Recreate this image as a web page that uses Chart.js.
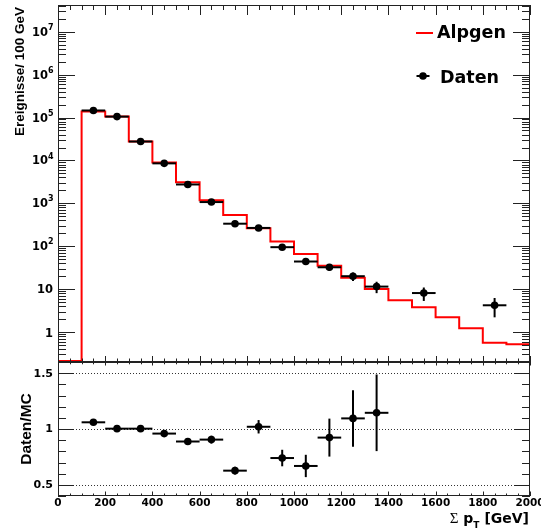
<!DOCTYPE html>
<html>
<head>
<meta charset="utf-8">
<script src="https://cdn.jsdelivr.net/npm/chart.js@4.4.1/dist/chart.umd.min.js"></script>
<style>
  body { margin: 0; background: #fff; width: 541px; height: 532px; overflow: hidden; position: relative; }
  canvas { position: absolute; left: 0; }
  #mainChart { top: 0; }
  #ratioChart { top: 355px; }
</style>
</head>
<body>
<canvas id="mainChart" width="541" height="366"></canvas>
<canvas id="ratioChart" width="541" height="177"></canvas>
<script>
// Sum pT spectrum: Alpgen prediction vs. data, ratio panel underneath

const binEdges = [0, 100, 200, 300, 400, 500, 600, 700, 800, 900, 1000,
                  1100, 1200, 1300, 1400, 1500, 1600, 1700, 1800, 1900, 2000];
const alpgen = [0, 138000, 105000, 27500, 8900, 3100, 1180, 535, 262, 128, 66,
                35, 18.3, 10, 5.5, 3.8, 2.2, 1.22, 0.56, 0.52];

const datenX   = [150, 250, 350, 450, 550, 650, 750, 850, 950, 1050, 1150, 1250, 1350, 1550, 1850];
const daten    = [146000, 105000, 27600, 8540, 2750, 1070, 335, 267, 95, 44, 32.3, 20, 11.45, 8.1, 4.2];
const datenErr = [380, 320, 165, 92, 52, 33, 18, 16, 9.7, 6.6, 5.7, 4.5, 3.4, 2.8, 2.0];

const ratioX   = [150, 250, 350, 450, 550, 650, 750, 850, 950, 1050, 1150, 1250, 1350];
const ratio    = [1.06, 1.003, 1.003, 0.959, 0.888, 0.905, 0.627, 1.02, 0.74, 0.669, 0.923, 1.095, 1.145];
const ratioErr = [0.008, 0.008, 0.01, 0.015, 0.025, 0.035, 0.035, 0.06, 0.074, 0.1, 0.17, 0.253, 0.343];

const xTicks = [0, 200, 400, 600, 800, 1000, 1200, 1400, 1600, 1800, 2000];
const ratioTicks = [0.5, 1, 1.5];
const decades = [0, 1, 2, 3, 4, 5, 6, 7];

const halfBin = 50;
const Y_MIN = 0.2, Y_MAX = 4.2e7;
const EMPTY_LEVEL = 0.21;   // empty bins drawn just above the frame bottom
const BOLD = '"DejaVu Sans", sans-serif';
const frameColor = '#222';

// histogram as step line: one point per low bin edge plus the closing edge
const histPoints = alpgen.map((v, i) => ({ x: binEdges[i], y: v > 0 ? v : EMPTY_LEVEL }));
histPoints.push({ x: binEdges[binEdges.length - 1], y: alpgen[alpgen.length - 1] });

const datenPoints = datenX.map((x, i) => ({ x: x, y: daten[i] }));
const ratioPoints = ratioX.map((x, i) => ({ x: x, y: ratio[i] }));

function line(ctx, x0, y0, x1, y1) {
    ctx.beginPath();
    ctx.moveTo(x0, y0);
    ctx.lineTo(x1, y1);
    ctx.stroke();
}

function drawErrors(ctx, xs, ys, errs, scaleX, scaleY) {
    ctx.strokeStyle = '#000';
    ctx.lineWidth = 2;
    xs.forEach((cx, i) => {
        const px = scaleX.getPixelForValue(cx);
        const py = scaleY.getPixelForValue(ys[i]);
        line(ctx, scaleX.getPixelForValue(cx - halfBin), py, scaleX.getPixelForValue(cx + halfBin), py);
        const lo = Math.max(ys[i] - errs[i], scaleY.min);
        line(ctx, px, scaleY.getPixelForValue(ys[i] + errs[i]), px, scaleY.getPixelForValue(lo));
    });
}

function drawFrame(ctx, a) {
    ctx.strokeStyle = frameColor;
    ctx.lineWidth = 1;
    ctx.strokeRect(Math.round(a.left) + 0.5, Math.round(a.top) + 0.5,
                   Math.round(a.right - a.left) - 1, Math.round(a.bottom - a.top) - 1);
}

// x ticks every 50 GeV, longer every 200 GeV
function drawXTicks(ctx, a, scaleX, topMajor, topMinor, botMajor, botMinor) {
    ctx.strokeStyle = frameColor;
    ctx.lineWidth = 1;
    for (let v = 0; v <= 2000; v += 50) {
        const px = Math.round(scaleX.getPixelForValue(v)) + 0.5;
        const major = v % 200 === 0;
        const t = major ? topMajor : topMinor;
        const b = major ? botMajor : botMinor;
        if (t > 0) line(ctx, px, a.top, px, a.top + t);
        if (b > 0) line(ctx, px, a.bottom, px, a.bottom - b);
    }
}

const mainAxes = {
    id: 'mainAxes',
    afterDatasetsDraw(chart) {
        const { ctx, chartArea: a, scales: { x, y } } = chart;
        ctx.save();
        drawErrors(ctx, datenX, daten, datenErr, x, y);
        drawFrame(ctx, a);
        drawXTicks(ctx, a, x, 10, 5, 6, 3.5);

        // log ticks on both sides
        ctx.strokeStyle = frameColor;
        ctx.lineWidth = 1;
        for (let k = -1; k <= 7; k++) {
            for (let m = 1; m <= 9; m++) {
                const v = m * Math.pow(10, k);
                if (v < Y_MIN || v > Y_MAX) continue;
                const py = Math.round(y.getPixelForValue(v)) + 0.5;
                const len = m === 1 ? 17 : 8;
                line(ctx, a.left, py, a.left + len, py);
                line(ctx, a.right, py, a.right - len, py);
            }
        }

        // decade labels
        ctx.fillStyle = '#000';
        ctx.textBaseline = 'middle';
        decades.forEach(k => {
            const py = y.getPixelForValue(Math.pow(10, k));
            ctx.textAlign = 'right';
            ctx.font = 'bold 11.5px ' + BOLD;
            if (k === 0) {
                ctx.fillText('1', 53, py + 1.5);
            } else if (k === 1) {
                ctx.fillText('10', 53, py + 1);
            } else {
                ctx.fillText('10', 48, py + 1);
                ctx.textAlign = 'left';
                ctx.font = 'bold 8px ' + BOLD;
                ctx.fillText(String(k), 48, py - 4);
            }
        });

        // y title
        ctx.save();
        ctx.translate(20.5, 7);
        ctx.rotate(-Math.PI / 2);
        ctx.textAlign = 'right';
        ctx.textBaseline = 'middle';
        ctx.font = 'bold 13.5px "Liberation Sans", Arial, sans-serif';
        ctx.fillText('Ereignisse/ 100 GeV', 0, 0);
        ctx.restore();

        // legend
        ctx.font = 'bold 17.5px ' + BOLD;
        ctx.textAlign = 'left';
        ctx.textBaseline = 'alphabetic';
        ctx.strokeStyle = '#ff0000';
        ctx.lineWidth = 2;
        line(ctx, 416, 33, 433, 33);
        ctx.fillText(chart.data.datasets[0].label, 437, 37.5);

        ctx.strokeStyle = '#000';
        line(ctx, 416.5, 76, 429.5, 76);
        ctx.beginPath();
        ctx.arc(423, 76, 3.8, 0, Math.PI * 2);
        ctx.fill();
        ctx.fillText(chart.data.datasets[1].label, 440, 83);
        ctx.restore();
    }
};

const ratioAxes = {
    id: 'ratioAxes',
    beforeDatasetsDraw(chart) {
        const { ctx, chartArea: a, scales: { y } } = chart;
        ctx.save();
        ctx.strokeStyle = '#333';
        ctx.lineWidth = 1;
        ctx.setLineDash([1, 2]);
        ratioTicks.forEach(v => {
            const py = Math.round(y.getPixelForValue(v)) + 0.5;
            line(ctx, a.left, py, a.right, py);
        });
        ctx.restore();
    },
    afterDatasetsDraw(chart) {
        const { ctx, chartArea: a, scales: { x, y } } = chart;
        ctx.save();
        drawErrors(ctx, ratioX, ratio, ratioErr, x, y);
        drawFrame(ctx, a);
        drawXTicks(ctx, a, x, 3.5, 2.3, 4.5, 2.5);

        ctx.strokeStyle = frameColor;
        ctx.lineWidth = 1;
        for (let i = 4; i <= 16; i++) {
            const v = i / 10;
            const py = Math.round(y.getPixelForValue(v)) + 0.5;
            const len = i % 5 === 0 ? 16 : 8;
            line(ctx, a.left, py, a.left + len, py);
            line(ctx, a.right, py, a.right - len, py);
        }

        ctx.fillStyle = '#000';
        ctx.textBaseline = 'middle';
        ctx.font = 'bold 11px ' + BOLD;
        ctx.textAlign = 'right';
        ratioTicks.forEach(v => {
            ctx.fillText(String(v), 53, y.getPixelForValue(v) + 0.5);
        });

        ctx.font = 'bold 10.5px ' + BOLD;
        ctx.textAlign = 'center';
        xTicks.forEach(v => {
            ctx.fillText(String(v), x.getPixelForValue(v), 148);
        });

        // y title
        ctx.save();
        ctx.translate(26.5, (a.top + a.bottom) / 2);
        ctx.rotate(-Math.PI / 2);
        ctx.textAlign = 'center';
        ctx.textBaseline = 'middle';
        ctx.font = 'bold 15.5px "Liberation Sans", Arial, sans-serif';
        ctx.fillText('Daten/MC', 0, 0);
        ctx.restore();

        // x title: Σ p_T [GeV], right aligned to the frame
        const parts = [
            { t: '\u03A3', font: '15px "Liberation Serif", serif', dy: 0 },
            { t: ' ', font: 'bold 14px ' + BOLD, dy: 0 },
            { t: 'p', font: 'bold 14px ' + BOLD, dy: 0 },
            { t: 'T', font: 'bold 9px ' + BOLD, dy: 5 },
            { t: ' [GeV]', font: 'bold 14px ' + BOLD, dy: 0 }
        ];
        ctx.textAlign = 'left';
        ctx.textBaseline = 'alphabetic';
        let total = 0;
        parts.forEach(p => { ctx.font = p.font; p.w = ctx.measureText(p.t).width; total += p.w; });
        let cx = 529 - total;
        parts.forEach(p => {
            ctx.font = p.font;
            ctx.fillText(p.t, cx, 168 + p.dy);
            cx += p.w;
        });
        ctx.restore();
    }
};

const common = {
    responsive: false,
    animation: false,
    devicePixelRatio: 1,
    events: [],
    plugins: { legend: { display: false }, tooltip: { enabled: false } }
};

new Chart(document.getElementById('mainChart').getContext('2d'), {
    type: 'line',
    data: {
        datasets: [
            {
                label: 'Alpgen',
                data: histPoints,
                stepped: 'before',
                borderColor: '#ff0000',
                borderWidth: 2,
                pointRadius: 0,
                fill: false,
                clip: 3,
                order: 2
            },
            {
                label: 'Daten',
                type: 'scatter',
                data: datenPoints,
                showLine: false,
                pointRadius: 3.8,
                pointBackgroundColor: '#000',
                pointBorderWidth: 0,
                order: 1
            }
        ]
    },
    options: {
        ...common,
        layout: { padding: { left: 58, right: 11, top: 5, bottom: 4 } },
        scales: {
            x: { type: 'linear', min: 0, max: 2000, display: false },
            y: { type: 'logarithmic', min: Y_MIN, max: Y_MAX, display: false }
        }
    },
    plugins: [mainAxes]
});

new Chart(document.getElementById('ratioChart').getContext('2d'), {
    type: 'scatter',
    data: {
        datasets: [{
            label: 'Daten/MC',
            data: ratioPoints,
            pointRadius: 3.8,
            pointBackgroundColor: '#000',
            pointBorderWidth: 0
        }]
    },
    options: {
        ...common,
        layout: { padding: { left: 58, right: 11, top: 7, bottom: 36 } },
        scales: {
            x: { type: 'linear', min: 0, max: 2000, display: false },
            y: { type: 'linear', min: 0.4, max: 1.6, display: false }
        }
    },
    plugins: [ratioAxes]
});
</script>
</body>
</html>
